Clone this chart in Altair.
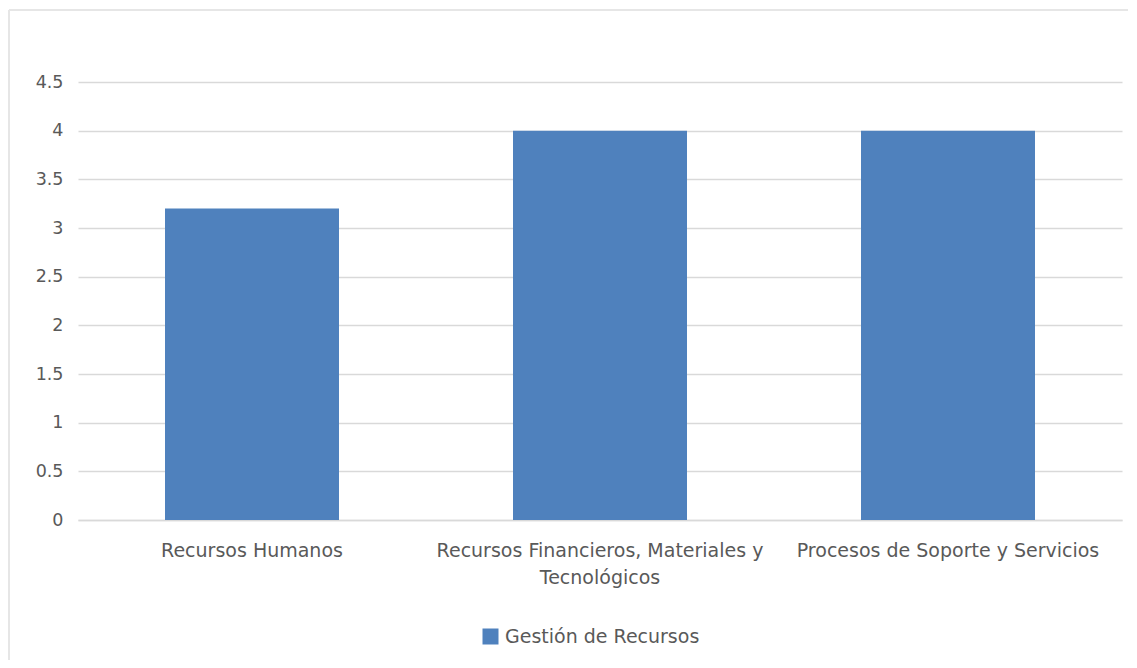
import altair as alt
import pandas as pd

categories = ["Recursos Humanos",
              "Recursos Financieros, Materiales y Tecnológicos",
              "Procesos de Soporte y Servicios"]
values = [3.2, 4.0, 4.0]
series = ["Gestión de Recursos"] * 3

df = pd.DataFrame({"categoria": categories, "valor": values, "serie": series})

FONT = "DejaVu Sans"
GRAY = "#595959"
FS_Y = 17.5
FS_X = 19

bars = alt.Chart(df).mark_bar(color="#4F81BD").encode(
    x=alt.X("categoria:N", sort=categories, title=None,
            scale=alt.Scale(paddingInner=0.5, paddingOuter=0.25),
            axis=alt.Axis(labelAngle=0, labelFontSize=FS_X, labelColor=GRAY, labelFont=FONT,
                          labelPadding=21, ticks=False, domainColor="#D9D9D9", domainWidth=1.5,
                          labelLineHeight=27, labelLimit=400,
                          labelExpr="datum.label == 'Recursos Financieros, Materiales y Tecnológicos' ? ['Recursos Financieros, Materiales y', 'Tecnológicos'] : datum.label")),
    y=alt.Y("valor:Q", title=None,
            scale=alt.Scale(domain=[0, 4.5], nice=False),
            axis=alt.Axis(values=[0, 0.5, 1, 1.5, 2, 2.5, 3, 3.5, 4, 4.5], format="~g",
                          labelFontSize=FS_Y, labelColor=GRAY, labelFont=FONT, labelPadding=15,
                          ticks=False, domain=False, gridColor="#D9D9D9", gridWidth=1.5)),
    fill=alt.Fill("serie:N", scale=alt.Scale(range=["#4F81BD"]),
                  legend=alt.Legend(title=None, orient="none", legendX=403, legendY=545,
                                    symbolType="square", symbolSize=256, symbolStrokeWidth=0,
                                    labelFontSize=FS_X, labelColor=GRAY, labelFont=FONT,
                                    labelOffset=5, labelLimit=400)),
)

border = alt.Chart(pd.DataFrame({"a": [0]})).mark_rule(color="#E6E6E6", strokeWidth=2).encode(
    x=alt.value(-69), x2=alt.value(1050), y=alt.value(-72)
)
border_left = alt.Chart(pd.DataFrame({"a": [0]})).mark_rule(color="#E6E6E6", strokeWidth=2).encode(
    x=alt.value(-69), y=alt.value(-72), y2=alt.value(580)
)

chart = alt.layer(bars, border, border_left).properties(
    width=1044, height=438,
    autosize=alt.AutoSizeParams(type="none"),
    padding={"left": 70, "top": 74, "right": 7, "bottom": 140},
).configure(background="white").configure_view(strokeWidth=0, stroke=None)

chart.save("out.html", embed_options={"renderer": "svg", "actions": False})
